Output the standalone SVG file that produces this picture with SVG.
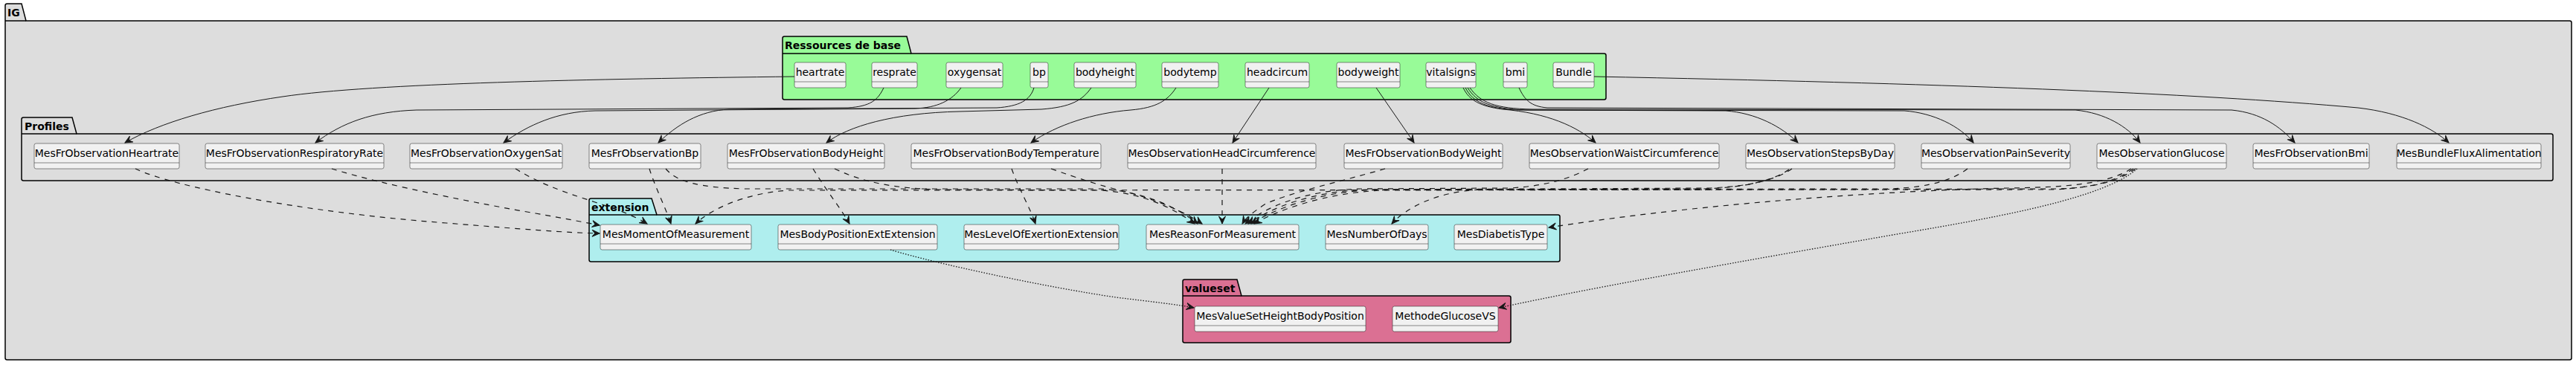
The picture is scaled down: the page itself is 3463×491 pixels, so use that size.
<svg xmlns="http://www.w3.org/2000/svg" width="3463" height="491" viewBox="0 0 3463 491">
<style>
.pkg{stroke:#000;stroke-width:1.5}
.ptitle{font-family:"DejaVu Sans","Liberation Sans",sans-serif;font-size:14px;font-weight:bold;fill:#000}
.node rect{fill:#F1F1F1;stroke:#181818;stroke-width:0.5}
.node line{stroke:#181818;stroke-width:0.5}
.node text{font-family:"DejaVu Sans","Liberation Sans",sans-serif;font-size:14px;fill:#000;text-anchor:middle}
.solid{fill:none;stroke:#181818;stroke-width:1;marker-end:url(#ah)}
.dash{fill:none;stroke:#181818;stroke-width:1.2;stroke-dasharray:7,7;marker-end:url(#ah)}
.dot{fill:none;stroke:#181818;stroke-width:1.3;stroke-dasharray:1.5,2;marker-end:url(#ah)}
</style>
<defs>
<marker id="ah" markerUnits="userSpaceOnUse" viewBox="-11 -6 13 12" refX="0" refY="0" markerWidth="13" markerHeight="12" orient="auto">
<path d="M0,0 L-10,-4.5 L-6,0 L-10,4.5 Z" fill="#181818" stroke="#181818" stroke-width="1" stroke-dasharray="none"/>
</marker>
</defs>
<rect width="3463" height="491" fill="#FFFFFF"/>

<g id="pkg-IG">
<path class="pkg" fill="#DDDDDD" d="M7,7.5 Q7,5 9.5,5 L29,5 L35,28 L3454.5,28 Q3457,28 3457,30.5 L3457,481.5 Q3457,484 3454.5,484 L9.5,484 Q7,484 7,481.5 Z"/>
<line class="pkg" x1="7" y1="28" x2="35" y2="28"/>
<text class="ptitle" x="10" y="22">IG</text>
</g>

<g id="pkg-Profiles">
<path class="pkg" fill="#DDDDDD" d="M29,160.5 Q29,158 31.5,158 L97,158 L103,180 L3429.5,180 Q3432,180 3432,182.5 L3432,240.5 Q3432,243 3429.5,243 L31.5,243 Q29,243 29,240.5 Z"/>
<line class="pkg" x1="29" y1="180" x2="103" y2="180"/>
<text class="ptitle" x="33" y="175">Profiles</text>
</g>

<g id="pkg-Ressources">
<path class="pkg" fill="#98FB98" d="M1052,51.5 Q1052,49 1054.5,49 L1219,49 L1225,72 L2156.5,72 Q2159,72 2159,74.5 L2159,131.5 Q2159,134 2156.5,134 L1054.5,134 Q1052,134 1052,131.5 Z"/>
<line class="pkg" x1="1052" y1="72" x2="1225" y2="72"/>
<text class="ptitle" x="1055" y="66">Ressources de base</text>
</g>

<g id="pkg-extension">
<path class="pkg" fill="#AFEEEE" d="M792,269.5 Q792,267 794.5,267 L876,267 L883,289 L2094.5,289 Q2097,289 2097,291.5 L2097,349.5 Q2097,352 2094.5,352 L794.5,352 Q792,352 792,349.5 Z"/>
<line class="pkg" x1="792" y1="289" x2="883" y2="289"/>
<text class="ptitle" x="795" y="284">extension</text>
</g>

<g id="pkg-valueset">
<path class="pkg" fill="#DB7093" d="M1590,378.5 Q1590,376 1592.5,376 L1663,376 L1669,398 L2028.5,398 Q2031,398 2031,400.5 L2031,458.5 Q2031,461 2028.5,461 L1592.5,461 Q1590,461 1590,458.5 Z"/>
<line class="pkg" x1="1590" y1="398" x2="1669" y2="398"/>
<text class="ptitle" x="1593" y="393">valueset</text>
</g>

<g id="n-heartrate" class="node"><rect x="1068" y="84" width="69" height="34" rx="2.5"/><line x1="1068" y1="110" x2="1137" y2="110"/><text x="1102.5" y="102">heartrate</text></g>
<g id="n-resprate" class="node"><rect x="1172" y="84" width="61" height="34" rx="2.5"/><line x1="1172" y1="110" x2="1233" y2="110"/><text x="1202.5" y="102">resprate</text></g>
<g id="n-oxygensat" class="node"><rect x="1272" y="84" width="76" height="34" rx="2.5"/><line x1="1272" y1="110" x2="1348" y2="110"/><text x="1310" y="102">oxygensat</text></g>
<g id="n-bp" class="node"><rect x="1385" y="84" width="24" height="34" rx="2.5"/><line x1="1385" y1="110" x2="1409" y2="110"/><text x="1397" y="102">bp</text></g>
<g id="n-bodyheight" class="node"><rect x="1444" y="84" width="83" height="34" rx="2.5"/><line x1="1444" y1="110" x2="1527" y2="110"/><text x="1485.5" y="102">bodyheight</text></g>
<g id="n-bodytemp" class="node"><rect x="1562" y="84" width="76" height="34" rx="2.5"/><line x1="1562" y1="110" x2="1638" y2="110"/><text x="1600" y="102">bodytemp</text></g>
<g id="n-headcircum" class="node"><rect x="1674" y="84" width="86" height="34" rx="2.5"/><line x1="1674" y1="110" x2="1760" y2="110"/><text x="1717" y="102">headcircum</text></g>
<g id="n-bodyweight" class="node"><rect x="1797" y="84" width="85" height="34" rx="2.5"/><line x1="1797" y1="110" x2="1882" y2="110"/><text x="1839.5" y="102">bodyweight</text></g>
<g id="n-vitalsigns" class="node"><rect x="1917" y="84" width="67" height="34" rx="2.5"/><line x1="1917" y1="110" x2="1984" y2="110"/><text x="1950.5" y="102">vitalsigns</text></g>
<g id="n-bmi" class="node"><rect x="2021" y="84" width="32" height="34" rx="2.5"/><line x1="2021" y1="110" x2="2053" y2="110"/><text x="2037" y="102">bmi</text></g>
<g id="n-Bundle" class="node"><rect x="2088" y="84" width="55" height="34" rx="2.5"/><line x1="2088" y1="110" x2="2143" y2="110"/><text x="2115.5" y="102">Bundle</text></g>

<g id="n-MesFrObservationHeartrate" class="node"><rect x="46" y="193" width="195" height="34" rx="2.5"/><line x1="46" y1="219" x2="241" y2="219"/><text x="143.5" y="211">MesFrObservationHeartrate</text></g>
<g id="n-MesFrObservationRespiratoryRate" class="node"><rect x="276" y="193" width="240" height="34" rx="2.5"/><line x1="276" y1="219" x2="516" y2="219"/><text x="396" y="211">MesFrObservationRespiratoryRate</text></g>
<g id="n-MesFrObservationOxygenSat" class="node"><rect x="551" y="193" width="205" height="34" rx="2.5"/><line x1="551" y1="219" x2="756" y2="219"/><text x="653.5" y="211">MesFrObservationOxygenSat</text></g>
<g id="n-MesFrObservationBp" class="node"><rect x="792" y="193" width="150" height="34" rx="2.5"/><line x1="792" y1="219" x2="942" y2="219"/><text x="867" y="211">MesFrObservationBp</text></g>
<g id="n-MesFrObservationBodyHeight" class="node"><rect x="978" y="193" width="211" height="34" rx="2.5"/><line x1="978" y1="219" x2="1189" y2="219"/><text x="1083.5" y="211">MesFrObservationBodyHeight</text></g>
<g id="n-MesFrObservationBodyTemperature" class="node"><rect x="1225" y="193" width="255" height="34" rx="2.5"/><line x1="1225" y1="219" x2="1480" y2="219"/><text x="1352.5" y="211">MesFrObservationBodyTemperature</text></g>
<g id="n-MesObservationHeadCircumference" class="node"><rect x="1516" y="193" width="253" height="34" rx="2.5"/><line x1="1516" y1="219" x2="1769" y2="219"/><text x="1642.5" y="211">MesObservationHeadCircumference</text></g>
<g id="n-MesFrObservationBodyWeight" class="node"><rect x="1807" y="193" width="213" height="34" rx="2.5"/><line x1="1807" y1="219" x2="2020" y2="219"/><text x="1913.5" y="211">MesFrObservationBodyWeight</text></g>
<g id="n-MesObservationWaistCircumference" class="node"><rect x="2056" y="193" width="255" height="34" rx="2.5"/><line x1="2056" y1="219" x2="2311" y2="219"/><text x="2183.5" y="211">MesObservationWaistCircumference</text></g>
<g id="n-MesObservationStepsByDay" class="node"><rect x="2347" y="193" width="200" height="34" rx="2.5"/><line x1="2347" y1="219" x2="2547" y2="219"/><text x="2447" y="211">MesObservationStepsByDay</text></g>
<g id="n-MesObservationPainSeverity" class="node"><rect x="2583" y="193" width="200" height="34" rx="2.5"/><line x1="2583" y1="219" x2="2783" y2="219"/><text x="2683" y="211">MesObservationPainSeverity</text></g>
<g id="n-MesObservationGlucose" class="node"><rect x="2819" y="193" width="174" height="34" rx="2.5"/><line x1="2819" y1="219" x2="2993" y2="219"/><text x="2906" y="211">MesObservationGlucose</text></g>
<g id="n-MesFrObservationBmi" class="node"><rect x="3029" y="193" width="156" height="34" rx="2.5"/><line x1="3029" y1="219" x2="3185" y2="219"/><text x="3107" y="211">MesFrObservationBmi</text></g>
<g id="n-MesBundleFluxAlimentation" class="node"><rect x="3222" y="193" width="194" height="34" rx="2.5"/><line x1="3222" y1="219" x2="3416" y2="219"/><text x="3319" y="211">MesBundleFluxAlimentation</text></g>

<g id="n-MesMomentOfMeasurement" class="node"><rect x="807" y="302" width="203" height="34" rx="2.5"/><line x1="807" y1="328" x2="1010" y2="328"/><text x="908.5" y="320">MesMomentOfMeasurement</text></g>
<g id="n-MesBodyPositionExtExtension" class="node"><rect x="1046" y="302" width="214" height="34" rx="2.5"/><line x1="1046" y1="328" x2="1260" y2="328"/><text x="1153" y="320">MesBodyPositionExtExtension</text></g>
<g id="n-MesLevelOfExertionExtension" class="node"><rect x="1296" y="302" width="208" height="34" rx="2.5"/><line x1="1296" y1="328" x2="1504" y2="328"/><text x="1400" y="320">MesLevelOfExertionExtension</text></g>
<g id="n-MesReasonForMeasurement" class="node"><rect x="1541" y="302" width="205" height="34" rx="2.5"/><line x1="1541" y1="328" x2="1746" y2="328"/><text x="1643.5" y="320">MesReasonForMeasurement</text></g>
<g id="n-MesNumberOfDays" class="node"><rect x="1782" y="302" width="138" height="34" rx="2.5"/><line x1="1782" y1="328" x2="1920" y2="328"/><text x="1851" y="320">MesNumberOfDays</text></g>
<g id="n-MesDiabetisType" class="node"><rect x="1955" y="302" width="125" height="34" rx="2.5"/><line x1="1955" y1="328" x2="2080" y2="328"/><text x="2017.5" y="320">MesDiabetisType</text></g>

<g id="n-MesValueSetHeightBodyPosition" class="node"><rect x="1606" y="412" width="230" height="34" rx="2.5"/><line x1="1606" y1="438" x2="1836" y2="438"/><text x="1721" y="430">MesValueSetHeightBodyPosition</text></g>
<g id="n-MethodeGlucoseVS" class="node"><rect x="1872" y="412" width="142" height="34" rx="2.5"/><line x1="1872" y1="438" x2="2014" y2="438"/><text x="1943" y="430">MethodeGlucoseVS</text></g>

<g id="connectors">
<path class="solid" d="M1068,103 C800,106 500,112 380,130 C290,143 215,165 168,192"/>
<path class="solid" d="M1188,118 C1180,135 1170,143 1140,145 L560,148 C500,150 460,165 424,192"/>
<path class="solid" d="M1292,118 C1280,135 1260,145 1230,146 L800,149 C750,150 710,168 677,192"/>
<path class="solid" d="M1390,118 C1385,135 1370,143 1340,145 L980,147 C940,149 910,168 885,192"/>
<path class="solid" d="M1467,118 C1455,135 1440,144 1400,147 L1290,150 C1200,152 1140,170 1111,192"/>
<path class="solid" d="M1581,118 C1570,135 1555,145 1520,148 C1470,152 1420,168 1386,192"/>
<path class="solid" d="M1706,118 L1657,192"/>
<path class="solid" d="M1850,118 L1901,192"/>
<path class="solid" d="M1967,118 C1975,135 1990,143 2020,147 C2080,152 2120,170 2145,192"/>
<path class="solid" d="M1970,118 C1980,138 2000,146 2040,148 L2320,149 C2360,152 2395,170 2417,192"/>
<path class="solid" d="M1973,118 C1985,138 2005,146 2050,148 L2560,149 C2600,152 2635,170 2653,192"/>
<path class="solid" d="M1976,118 C1990,138 2010,146 2060,147 L2790,148 C2830,152 2860,170 2877,192"/>
<path class="solid" d="M2042,118 C2050,135 2058,143 2080,145 L3000,148 C3040,152 3065,170 3085,192"/>
<path class="solid" d="M2143,103 C2600,112 2950,125 3170,145 C3230,152 3270,172 3292,192"/>

<path class="dash" d="M182,227 C230,250 400,285 600,300 C700,308 760,313 806,314"/>
<path class="dash" d="M446,227 C520,250 650,275 720,287 C760,294 785,299 806,303"/>
<path class="dash" d="M693,227 C730,250 770,262 800,272 C835,283 855,292 870,301"/>
<path class="dash" d="M873,227 C880,250 895,280 902,301"/>
<path class="dash" d="M895,227 C910,245 940,252 1000,254 L1480,254 C1540,258 1585,280 1610,301"/>
<path class="dash" d="M1093,227 C1110,255 1130,280 1142,301"/>
<path class="dash" d="M1122,227 C1160,245 1200,253 1260,255 L1480,256 C1540,260 1580,282 1606,301"/>
<path class="dash" d="M1360,227 C1370,255 1385,280 1392,301"/>
<path class="dash" d="M1413,227 C1450,240 1480,250 1510,257 C1560,270 1595,287 1616,301"/>
<path class="dash" d="M1643,227 L1643,301"/>
<path class="dash" d="M1862,227 C1800,245 1730,260 1700,275 C1685,285 1675,293 1670,301"/>
<path class="dash" d="M2135,227 C2110,240 2080,250 2030,253 L1830,254 C1750,256 1700,280 1674,301"/>
<path class="dash" d="M2409,227 C2390,240 2360,250 2300,253 L1840,255 C1760,257 1705,282 1678,301"/>
<path class="dash" d="M2405,228 C2385,242 2350,252 2290,254 L1990,255 C1930,258 1890,280 1871,301"/>
<path class="dash" d="M2645,227 C2625,242 2595,252 2540,254 L1850,255 C1770,258 1710,283 1682,301"/>
<path class="dash" d="M2871,227 C2850,242 2820,252 2770,254 L1860,256 C1780,259 1715,284 1686,301"/>
<path class="dash" d="M2868,227 C2845,243 2815,253 2760,255 L1060,256 C1000,260 955,282 935,301"/>
<path class="dash" d="M2865,227 C2840,243 2800,252 2700,253 C2550,256 2300,272 2082,306"/>

<path class="dot" d="M1197,336 C1260,355 1400,385 1500,400 C1550,406 1585,410 1605,414"/>
<path class="dot" d="M2873,227 C2830,265 2700,290 2550,315 C2350,350 2150,385 2015,414"/>
</g>
</svg>
